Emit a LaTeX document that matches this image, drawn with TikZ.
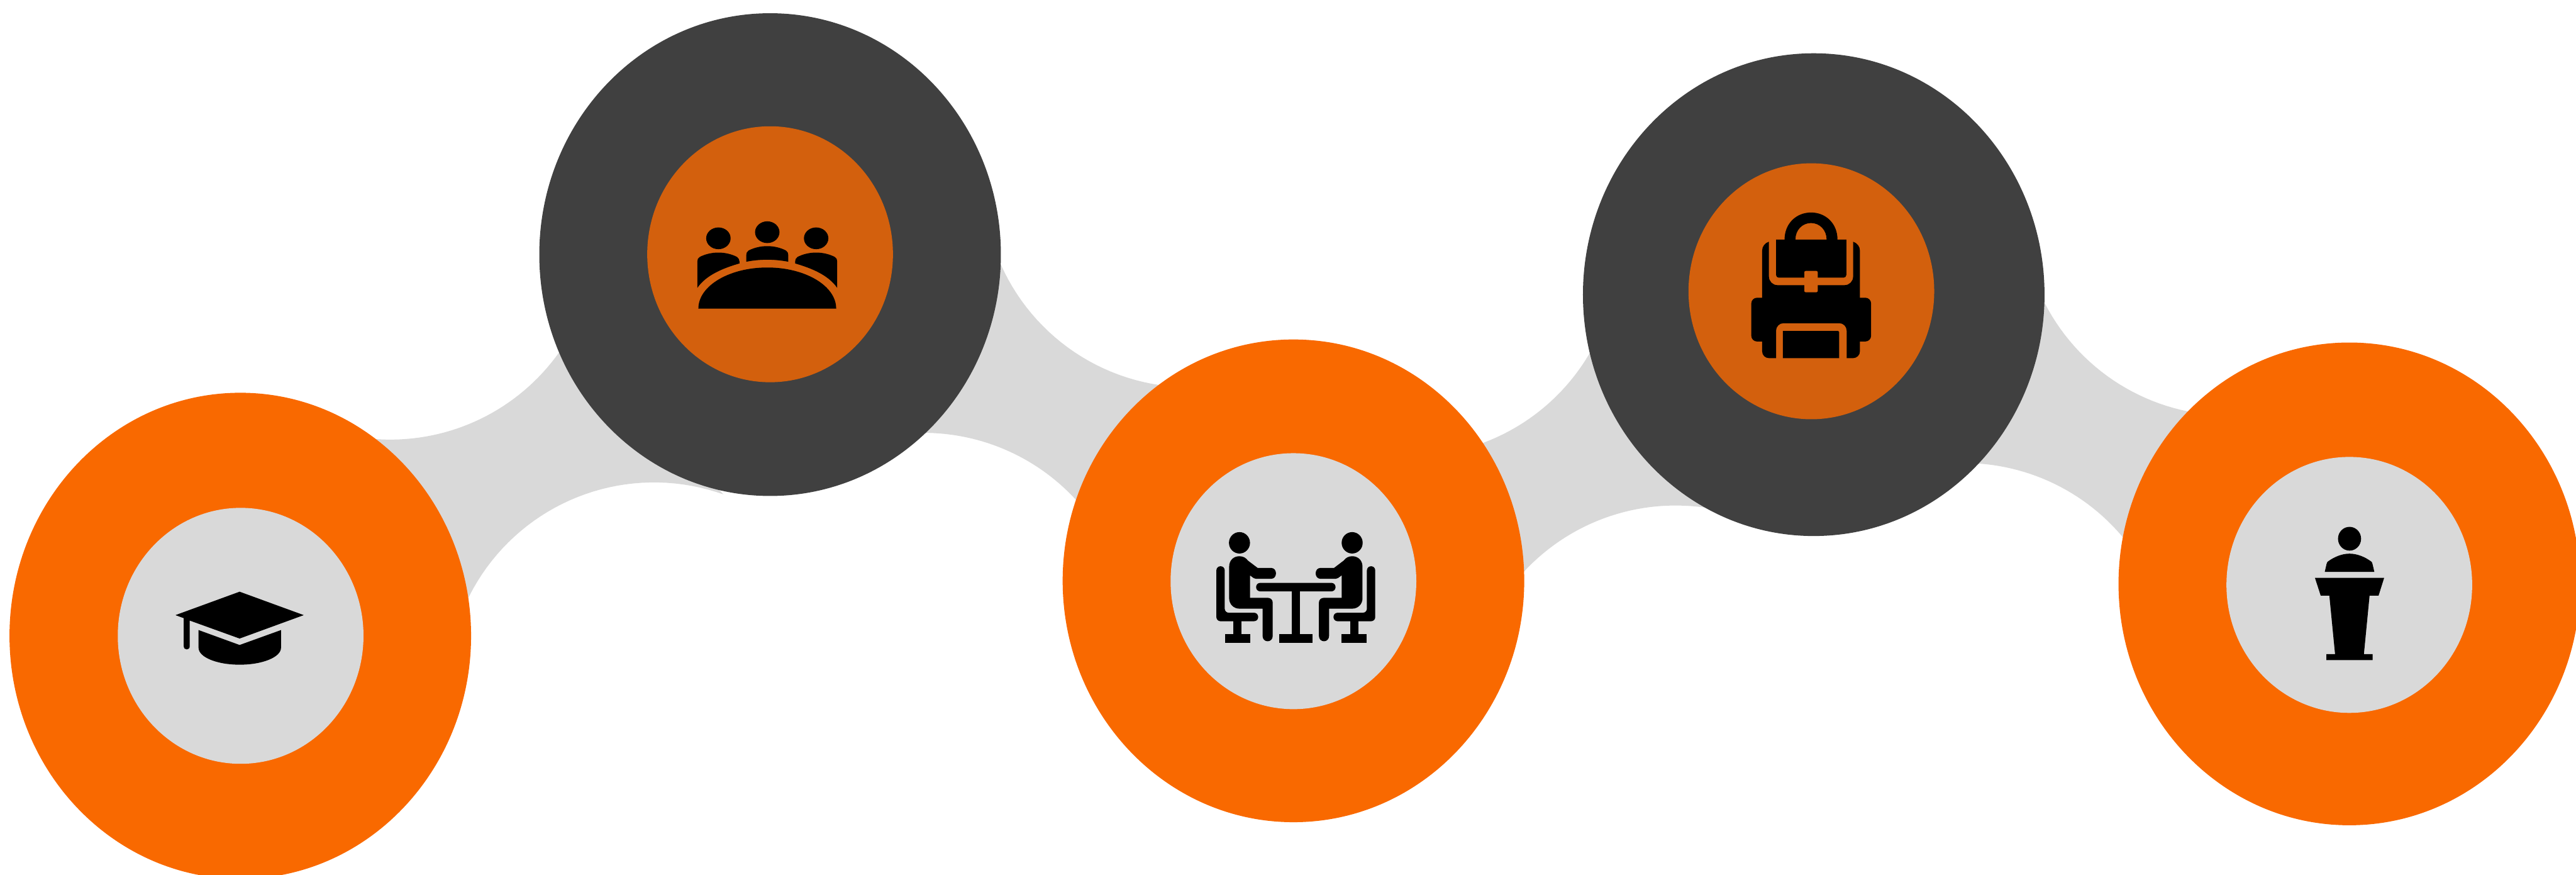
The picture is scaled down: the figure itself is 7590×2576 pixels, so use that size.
\documentclass[tikz,border=0pt]{standalone}
\definecolor{discorange}{HTML}{F96900}
\definecolor{discdark}{HTML}{404040}
\definecolor{coreorange}{HTML}{D3600D}
\definecolor{bandgrey}{HTML}{D9D9D9}
\tikzset{
  band/.style={fill=bandgrey},
  outerorange/.style={fill=discorange},
  outerdark/.style={fill=discdark},
  innergrey/.style={fill=bandgrey},
  innerorange/.style={fill=coreorange},
  icon/.style={fill=black}
}
\begin{document}
\begin{tikzpicture}[x=0.01cm,y=-0.01cm]
    \useasboundingbox (0,0) rectangle (7590,2576);
    \clip (0,0) rectangle (7590,2576);

    % Grey bands between the discs
    \foreach \ux/\uy/\ua/\ub/\lx/\ly/\la/\lb in {
        1150/685/100/30/1927/2031/200/289.6,
        3506/531/170/80/2721/1885/265/325,
        4157/733/80/20/4937/2099/215/290,
        6567/614/165/85/5787/1974/260/330}
      \fill[band] plot[domain=\ua:\ub,samples=40] ({\ux+610*cos(\x)},{\uy+610*sin(\x)})
        -- plot[domain=\lb:\la,samples=40] ({\lx+610*cos(\x)},{\ly+610*sin(\x)}) -- cycle;

    % Outer discs
    \fill[outerorange] (708,1873) ellipse [x radius=680,y radius=716];
    \fill[outerdark] (2269,750) ellipse [x radius=680,y radius=711];
    \fill[outerorange] (3811,1711) ellipse [x radius=680,y radius=711];
    \fill[outerdark] (5344,868) ellipse [x radius=680,y radius=711];
    \fill[outerorange] (6922,1720) ellipse [x radius=680,y radius=711];

    % Inner discs
    \fill[innergrey] (709,1873) ellipse [x radius=362,y radius=377];
    \fill[innerorange] (2269,749) ellipse [x radius=362,y radius=377];
    \fill[innergrey] (3811,1712) ellipse [x radius=362,y radius=377];
    \fill[innerorange] (5337,858) ellipse [x radius=362,y radius=377];
    \fill[innergrey] (6922,1723) ellipse [x radius=362,y radius=377];

    % Cap
    \fill[icon] (517,1812) -- (706,1743) -- (895,1812) -- (706,1881) -- (559,1828) -- (559,1904)
      .. controls (559,1916) and (541.5,1916) .. (541.5,1904) -- (541.5,1821) -- cycle;
    \fill[icon] (585,1856) -- (706,1900) -- (828,1856) -- (828,1908)
      .. controls (828,1936) and (773,1958) .. (706,1958)
      .. controls (639,1958) and (585,1936) .. (585,1908) -- cycle;

    % Round table with three people
    \begin{scope}[shift={(2260.7,0)}]
      \fill[icon] (-203,909) .. controls (-203,842) and (-112,788) .. (0,788)
        .. controls (112,788) and (203,842) .. (203,909) -- cycle;
      \fill[icon] (0,684) ellipse [x radius=36,y radius=32];
      \fill[icon] (-62,771) -- (-62,752) .. controls (-62,746) and (-60,741) .. (-55,738)
        .. controls (-40,730) and (-20,725) .. (0,725)
        .. controls (20,725) and (40,730) .. (55,738)
        .. controls (60,741) and (62,746) .. (62,752) -- (62,771)
        .. controls (20,763) and (-20,763) .. (-62,771) -- cycle;
      \foreach \sgn in {1,-1} {
        \begin{scope}[xscale=\sgn]
          \fill[icon] (-144,702) ellipse [x radius=36,y radius=32];
          \fill[icon] (-206,848) -- (-206,770) .. controls (-206,764) and (-204,760) .. (-199,757)
            .. controls (-184,749) and (-164,744) .. (-144,744)
            .. controls (-124,744) and (-104,749) .. (-89,757)
            .. controls (-85,760) and (-82,765) .. (-82,770) -- (-82,776)
            .. controls (-130,790) and (-180,810) .. (-206,848) -- cycle;
        \end{scope}
      }
    \end{scope}

    % Two people at a table
    \begin{scope}[shift={(3818,0)}]
      \fill[icon,rounded corners=0.12cm] (-117,1717) rectangle (117,1742);
      \fill[icon] (-12.5,1730) rectangle (12.5,1880);
      \fill[icon] (-49,1868.5) rectangle (49,1893.5);
      \foreach \sgn in {1,-1} {
        \begin{scope}[xscale=\sgn]
          \fill[icon] (-166,1599) ellipse [x radius=31,y radius=31.5];
          % Person
          \fill[icon] (-196.5,1670) .. controls (-196.5,1650) and (-183,1638.5) .. (-166,1638.5)
            .. controls (-156,1638.5) and (-147,1643) .. (-141.5,1651)
            -- (-112.5,1673) -- (-73,1673)
            .. controls (-64,1673) and (-58.5,1680) .. (-58.5,1689)
            .. controls (-58.5,1698) and (-64,1705) .. (-73,1705)
            -- (-117,1705) .. controls (-120,1705) and (-122,1704) .. (-124,1703)
            -- (-135,1695) -- (-135,1761) -- (-83,1761)
            .. controls (-74,1761) and (-68,1767) .. (-68,1775.5)
            -- (-68,1873) .. controls (-68,1883) and (-75,1889) .. (-83,1889)
            .. controls (-91,1889) and (-98,1883) .. (-98,1873)
            -- (-98,1793) -- (-166,1793)
            .. controls (-183,1793) and (-196.5,1780) .. (-196.5,1762) -- cycle;
          % Chair
          \fill[icon,rounded corners=0.12cm] (-234,1668) -- (-209.5,1668) -- (-209.5,1805) -- (-111,1805)
            -- (-111,1830) -- (-234,1830) -- cycle;
          \fill[icon] (-184,1825) rectangle (-160,1875);
          \fill[icon] (-209,1868.5) rectangle (-135,1893.5);
        \end{scope}
      }
    \end{scope}

    % Backpack
    \begin{scope}[shift={(5336,0)}]
      \fill[icon,even odd rule] (-103,706) -- (-78,706)
        .. controls (-78,658) and (-43,626) .. (0,626)
        .. controls (43,626) and (78,658) .. (78,706)
        -- (104,706) [rounded corners=0.08cm] -- (104,818) [sharp corners] -- (20,818)
        [rounded corners=0.04cm] -- (20,798) -- (-20,798) [sharp corners] -- (-20,818)
        [rounded corners=0.08cm] -- (-103,818) [sharp corners] -- cycle
        (-46,706) .. controls (-46,678) and (-26,657) .. (0,657)
        .. controls (26,657) and (46,678) .. (46,706) -- cycle;
      \fill[icon] (-124,712) [rounded corners=0.25cm] -- (-124,840) [sharp corners] -- (-20,840)
        [rounded corners=0.04cm] -- (-20,861) -- (20,861) [sharp corners] -- (20,840)
        [rounded corners=0.25cm] -- (124,840) [sharp corners] -- (124,712)
        .. controls (136,716) and (144,726) .. (144,738) -- (144,877)
        [rounded corners=0.17cm] -- (177,877) -- (177,1006) [sharp corners] -- (144,1006)
        [rounded corners=0.2cm] -- (144,1055) [sharp corners] -- (105,1055)
        [rounded corners=0.22cm] -- (105,952) -- (-103,952) [sharp corners] -- (-103,1055)
        [rounded corners=0.2cm] -- (-144,1055) [sharp corners] -- (-144,1006)
        [rounded corners=0.17cm] -- (-176,1006) -- (-176,877) [sharp corners] -- (-144,877)
        -- (-144,738) .. controls (-144,726) and (-136,716) .. (-124,712) -- cycle;
      \fill[icon,rounded corners=0.03cm] (-83,975) -- (83,975) [sharp corners] -- (83,1055) -- (-83,1055) -- cycle;
    \end{scope}

    % Speaker at a lectern
    \begin{scope}[shift={(6922.7,0)}]
      \fill[icon] (0,1587) ellipse [x radius=34,y radius=35];
      \fill[icon] (-73,1684.5) -- (-68,1662.6) .. controls (-67,1659) and (-66,1657) .. (-65,1655)
        .. controls (-45,1640) and (-22,1631) .. (0,1631)
        .. controls (22,1631) and (45,1640) .. (65,1655)
        .. controls (66,1657) and (67,1659) .. (68,1662.6) -- (73,1684.5) -- cycle;
      \fill[icon] (-102,1702) -- (102,1702) -- (85.5,1754.5) -- (59,1754.5) -- (42.3,1926.7)
        -- (68,1926.7) -- (68,1944.7) -- (-68,1944.7) -- (-68,1926.7) -- (-42.7,1926.7)
        -- (-59.5,1754.5) -- (-85,1754.5) -- cycle;
    \end{scope}
\end{tikzpicture}
\end{document}
